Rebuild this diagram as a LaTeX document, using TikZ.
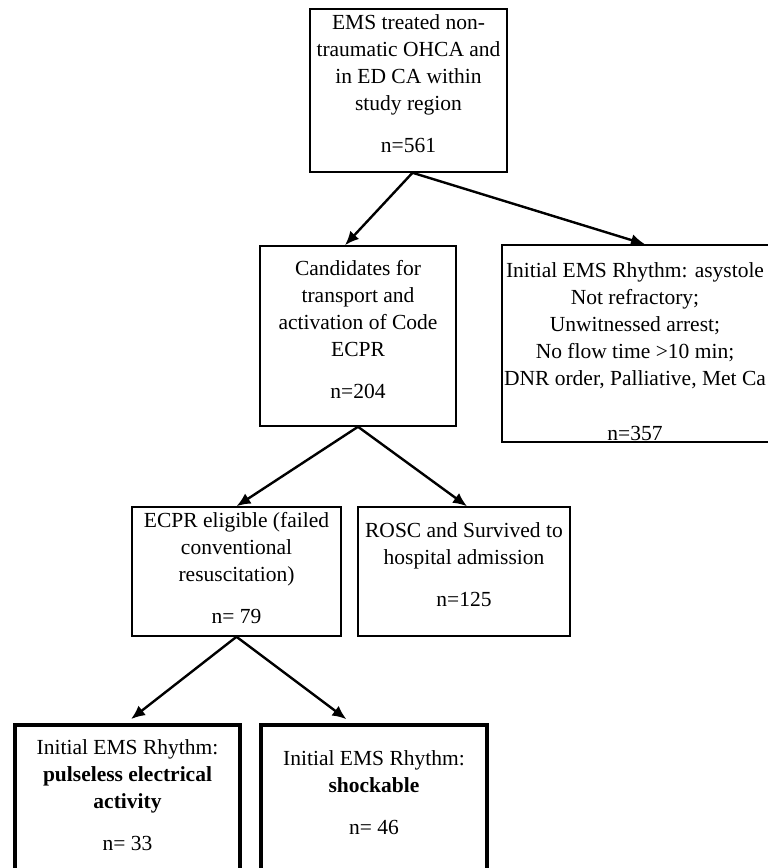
\documentclass[tikz,border=0pt]{standalone}
\usepackage{fontspec}
\setmainfont{Liberation Serif}
\usetikzlibrary{arrows.meta,calc}

\begin{document}
\begin{tikzpicture}[x=1pt,y=-1pt,
  box/.style={draw,line width=1.5pt},
  thickbox/.style={draw,line width=3.2pt},
  txt/.style={align=center,inner sep=0pt,font=\fontsize{21.5}{27}\selectfont},
  arr/.style={-{Latex[length=14pt,width=12pt]},line width=2.4pt}]
  \useasboundingbox (0,0) rectangle (768,868);

  % top
  \node[box,minimum width=197pt,minimum height=163pt] (ohca) at (408.5,90.5) {};
  \node[txt] (ohcatxt) at ($(ohca)+(0,-7)$) {EMS treated non-\\traumatic OHCA and\\in ED CA within\\study region\\[15pt]n=561};

  % second row
  \node[box,minimum width=196pt,minimum height=180pt] (cand) at (358,336) {};
  \node[txt] (candtxt) at ($(cand)+(0,-6)$) {Candidates for\\transport and\\activation of Code\\ECPR\\[15pt]n=204};
  \node[box,minimum width=270pt,minimum height=197pt] (asys) at (637,343.5) {};
  \node[txt] (asystxt) at ($(asys)+(-2,8)$) {Initial EMS Rhythm: asystole\\Not refractory;\\Unwitnessed arrest;\\No flow time >10 min;\\DNR order, Palliative, Met Ca\\[28pt]n=357};

  % third row
  \node[box,minimum width=209pt,minimum height=129pt] (ecpr) at (236.5,571.5) {};
  \node[txt] (ecprtxt) at ($(ecpr)+(0,-3)$) {ECPR eligible (failed\\conventional\\resuscitation)\\[15pt]n= 79};
  \node[box,minimum width=212pt,minimum height=129pt] (rosc) at (464,571.5) {};
  \node[txt] (rosctxt) at ($(rosc)+(0,-7)$) {ROSC and Survived to\\hospital admission\\[15pt]n=125};

  % bottom
  \node[thickbox,minimum width=225pt,minimum height=152pt] (pea) at (127.5,801) {};
  \node[txt] (peatxt) at ($(pea)+(0,-6)$) {Initial EMS Rhythm:\\\textbf{pulseless electrical}\\\textbf{activity}\\[15pt]n= 33};
  \node[thickbox,minimum width=226pt,minimum height=152pt] (shock) at (374,801) {};
  \node[txt] (shocktxt) at ($(shock)+(0,-8)$) {Initial EMS Rhythm:\\\textbf{shockable}\\[15pt]n= 46};

  \draw[arr] ($(ohca.south)+(4,0)$) -- ($(cand.north)+(-13,0)$);
  \draw[arr] ($(ohca.south)+(4,0)$) -- ($(asys.north)+(8,0)$);
  \draw[arr] (cand.south) -- (ecpr.north);
  \draw[arr] (cand.south) -- ($(rosc.north)+(3,0)$);
  \draw[arr,shorten >=7pt] (ecpr.south) -- ($(pea.north)+(-2,0)$);
  \draw[arr,shorten >=7pt] (ecpr.south) -- ($(shock.north)+(-22,0)$);
\end{tikzpicture}
\end{document}
